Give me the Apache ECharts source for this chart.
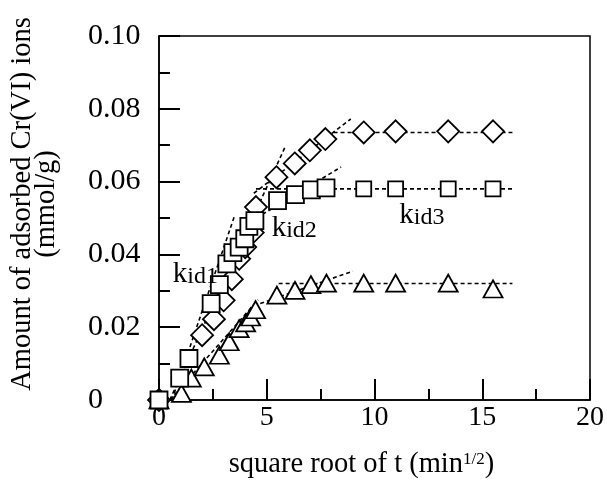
<!DOCTYPE html>
<html>
<head>
<meta charset="utf-8">
<script src="https://cdn.jsdelivr.net/npm/echarts@6/dist/echarts.min.js"></script>
<style>
  html, body { margin: 0; padding: 0; background: #fff; }
  #chart { width: 607px; height: 490px; }
</style>
</head>
<body>
<div id="chart"></div>
<script>
// Cr(VI) uptake vs. square root of contact time (intraparticle diffusion plot)
const diamondX = [0, 2.0, 2.55, 3.0, 3.38, 3.72, 4.0, 4.35, 4.5, 5.45, 6.3, 7.0, 7.72, 9.5, 10.98, 13.42, 15.5];
const diamondY = [0, 0.0178, 0.0222, 0.0274, 0.0332, 0.0388, 0.042, 0.046, 0.053, 0.0612, 0.065, 0.0686, 0.0717, 0.0735, 0.0738, 0.0738, 0.0738];

const squareX = [0, 0.96, 1.39, 2.42, 2.8, 3.15, 3.43, 3.72, 3.98, 4.17, 4.45, 5.5, 6.33, 7.07, 7.75, 9.5, 10.98, 13.42, 15.5];
const squareY = [0, 0.006, 0.0114, 0.0265, 0.0317, 0.0374, 0.0405, 0.042, 0.0443, 0.0477, 0.0493, 0.0548, 0.0564, 0.0577, 0.0583, 0.058, 0.058, 0.058, 0.058];

const triangleX = [0, 1.04, 1.5, 2.1, 2.8, 3.26, 3.72, 4.02, 4.25, 4.48, 5.47, 6.31, 7.05, 7.77, 9.5, 10.98, 13.42, 15.5];
const triangleY = [0, 0.0018, 0.006, 0.0091, 0.0123, 0.016, 0.0196, 0.0212, 0.0228, 0.0248, 0.0288, 0.0301, 0.0317, 0.0321, 0.0321, 0.0321, 0.0321, 0.0305];

// fitted linear segments (stage 1, stage 2, plateau) as [x, y] end points
const diamondFit1 = [[0.5, 0], [5.85, 0.0695]];
const diamondFit2 = [[4.4, 0.0568], [8.9, 0.0772]];
const diamondFit3 = [[8.1, 0.0735], [16.4, 0.0735]];
const squareFit1 = [[0.6, 0], [3.5, 0.0505]];
const squareFit2 = [[4.8, 0.051], [8.45, 0.064]];
const squareFit3 = [[4.5, 0.058], [16.4, 0.058]];
const triangleFit1 = [[0.5, 0], [4.6, 0.0275]];
const triangleFit2 = [[4.7, 0.0265], [9.0, 0.0354]];
const triangleFit3 = [[5.55, 0.032], [16.4, 0.032]];

const xTicks = [0, 5, 10, 15, 20];
const yTicks = [0, 0.02, 0.04, 0.06, 0.08, 0.10];
const yTickLabels = ['0', '0.02', '0.04', '0.06', '0.08', '0.10'];

// rate-constant annotations: [x, y] at left/baseline of the text
const stageLabels = [
  { sub: 'id1', at: [0.64, 0.0323] },
  { sub: 'id2', at: [5.23, 0.0449] },
  { sub: 'id3', at: [11.15, 0.0485] }
];

const FONT = "'Liberation Serif', 'Times New Roman', serif";
const zip = (xs, ys) => xs.map((x, i) => [x, ys[i]]);

const fitLine = (data) => ({
  type: 'line',
  data: data,
  symbol: 'none',
  silent: true,
  z: 1,
  lineStyle: { color: '#000', width: 1.6, type: [4, 3] }
});

const markerStyle = { color: '#fff', borderColor: '#000', borderWidth: 1.8, opacity: 1 };

const chart = echarts.init(document.getElementById('chart'), null, { renderer: 'canvas' });

chart.setOption({
  backgroundColor: '#fff',
  animation: false,
  grid: {
    left: 159, right: 12, top: 36, bottom: 90,
    show: true, borderColor: '#000', borderWidth: 1.5, backgroundColor: 'transparent'
  },
  xAxis: {
    type: 'value',
    min: xTicks[0], max: xTicks[xTicks.length - 1], interval: 5,
    axisLine: { show: true, lineStyle: { color: '#000', width: 1.5 } },
    axisTick: { show: true, inside: true, length: 21, lineStyle: { color: '#000', width: 2 } },
    minorTick: { show: true, splitNumber: 2, length: 11, lineStyle: { color: '#000', width: 2 } },
    splitLine: { show: false },
    axisLabel: { color: '#000', fontFamily: FONT, fontSize: 28, margin: 4 },
    name: '{t|square root of t (min}{s|1/2}{t|)}',
    nameLocation: 'middle',
    nameGap: 49,
    nameTextStyle: {
      padding: [0, 26, 0, 0],
      rich: {
        t: { fontFamily: FONT, fontSize: 28.5, color: '#000', lineHeight: 30, verticalAlign: 'bottom' },
        s: { fontFamily: FONT, fontSize: 17, color: '#000', lineHeight: 30, verticalAlign: 'top', padding: [2, 0, 0, 0] }
      }
    }
  },
  yAxis: {
    type: 'value',
    min: yTicks[0], max: yTicks[yTicks.length - 1], interval: 0.02,
    axisLine: { show: true, lineStyle: { color: '#000', width: 1.5 } },
    axisTick: { show: true, inside: true, length: 21, lineStyle: { color: '#000', width: 2 } },
    minorTick: { show: true, splitNumber: 2, length: 11, lineStyle: { color: '#000', width: 2 } },
    splitLine: { show: false },
    axisLabel: {
      color: '#000', fontFamily: FONT, fontSize: 30, margin: 71, align: 'left',
      padding: [7, 0, 0, 0],
      formatter: (v) => {
        const i = yTicks.findIndex((t) => Math.abs(t - v) < 1e-9);
        return i >= 0 ? yTickLabels[i] : '';
      }
    },
    name: 'Amount of adsorbed Cr(VI) ions\n(mmol/g)',
    nameLocation: 'middle',
    nameGap: 100,
    nameTextStyle: {
      color: '#000', fontFamily: FONT, fontSize: 28.5, lineHeight: 24,
      padding: [0, 0, 0, 28]
    }
  },
  series: [
    fitLine(diamondFit1), fitLine(diamondFit2), fitLine(diamondFit3),
    fitLine(squareFit1), fitLine(squareFit2), fitLine(squareFit3),
    fitLine(triangleFit1), fitLine(triangleFit2), fitLine(triangleFit3),
    {
      type: 'scatter', name: 'diamond', data: zip(diamondX, diamondY),
      symbol: 'diamond', symbolSize: [22, 22], z: 3, itemStyle: markerStyle
    },
    {
      type: 'scatter', name: 'triangle', data: zip(triangleX, triangleY),
      symbol: 'triangle', symbolSize: [19, 17], z: 4, itemStyle: markerStyle
    },
    {
      type: 'scatter', name: 'square', data: zip(squareX, squareY),
      symbol: 'rect', z: 5, itemStyle: markerStyle,
      symbolSize: (v) => (v[0] > 9 ? 15 : 17)
    }
  ]
});

// rate constant labels anchored in data coordinates
const labelGraphics = stageLabels.map((lab) => {
  const p = chart.convertToPixel({ gridIndex: 0 }, lab.at);
  return {
    type: 'text',
    x: p[0], y: p[1] + 6,
    z: 10,
    style: {
      text: '{k|k}{s|' + lab.sub + '}',
      verticalAlign: 'bottom',
      align: 'left',
      rich: {
        k: { fontFamily: FONT, fontSize: 29, lineHeight: 29, color: '#000', verticalAlign: 'bottom' },
        s: { fontFamily: FONT, fontSize: 24, lineHeight: 24, color: '#000', verticalAlign: 'bottom' }
      }
    }
  };
});
chart.setOption({ graphic: labelGraphics });
</script>
</body>
</html>
